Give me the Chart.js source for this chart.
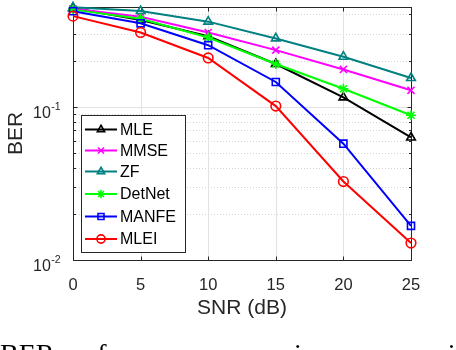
<!DOCTYPE html>
<html>
<head>
<meta charset="utf-8">
<script src="https://cdn.jsdelivr.net/npm/chart.js@4.4.0/dist/chart.umd.min.js"></script>
<style>
  html, body { margin: 0; padding: 0; background: #fff; overflow: hidden; }
  #wrap { position: relative; width: 456px; height: 350px; overflow: hidden; }
  #chartBox { position: absolute; left: 0; top: 0; width: 456px; height: 350px; }
  #caption { position: absolute; left: 0; top: 340px; font-family: "Liberation Serif", serif; font-size: 28px; line-height: 28px; white-space: nowrap; color: #000; }
</style>
</head>
<body>
<div id="wrap">
  <div id="chartBox"><canvas id="berChart"></canvas></div>
  <div id="caption">BER performance comparison curves with</div>
</div>
<script>
// data
const snr = [0, 5, 10, 15, 20, 25];
const berMLE = [0.44, 0.368, 0.288, 0.19, 0.115, 0.063];
const berMMSE = [0.435, 0.386, 0.305, 0.234, 0.175, 0.128];
const berZF = [0.445, 0.421, 0.359, 0.279, 0.212, 0.154];
const berDetNet = [0.43, 0.375, 0.283, 0.19, 0.131, 0.088];
const berMANFE = [0.42, 0.35, 0.252, 0.145, 0.0574, 0.0167];
const berMLEI = [0.39, 0.305, 0.208, 0.101, 0.0325, 0.0129];
const xTicks = [0, 5, 10, 15, 20, 25];
const yTickExps = [-2, -1];

const axisColor = '#262626';
const sans = '"Liberation Sans", Arial, sans-serif';

// one entry per curve, in MATLAB plot order
const series = [
    { label: 'MLE', values: berMLE, color: '#000000', marker: 'triangle', r: 5 },
    { label: 'MMSE', values: berMMSE, color: '#ff00ff', marker: 'crossRot', r: 5 },
    { label: 'ZF', values: berZF, color: '#008080', marker: 'triangle', r: 5 },
    { label: 'DetNet', values: berDetNet, color: '#00ff00', marker: 'star', r: 5 },
    { label: 'MANFE', values: berMANFE, color: '#0000ff', marker: 'rect', r: 5 },
    { label: 'MLEI', values: berMLEI, color: '#ff0000', marker: 'circle', r: 4.8 }
];

const datasets = series.map((s, i) => ({
    label: s.label,
    data: snr.map((x, k) => ({ x: x, y: s.values[k] })),
    borderColor: s.color,
    borderWidth: 2,
    tension: 0,
    pointStyle: s.marker,
    pointRadius: s.r,
    pointBorderColor: s.color,
    pointBorderWidth: 1.6,
    pointBackgroundColor: 'rgba(0,0,0,0)',
    clip: false,
    order: series.length - i
}));

// little drawing helpers
function hLine(ctx, x1, x2, y) {
    ctx.beginPath(); ctx.moveTo(x1, y); ctx.lineTo(x2, y); ctx.stroke();
}
function vLine(ctx, x, y1, y2) {
    ctx.beginPath(); ctx.moveTo(x, y1); ctx.lineTo(x, y2); ctx.stroke();
}

function drawMarker(ctx, style, r, x, y) {
    if (Chart.helpers && Chart.helpers.drawPoint) {
        Chart.helpers.drawPoint(ctx, { pointStyle: style, radius: r, borderWidth: ctx.lineWidth, rotation: 0 }, x, y);
        return;
    }
    ctx.beginPath();
    ctx.arc(x, y, r, 0, Math.PI * 2);
    ctx.stroke();
}

// matlab style box, grid, ticks, exponent labels and legend
const matlabAxes = {
    id: 'matlabAxes',
    beforeDatasetsDraw(chart) {
        const { ctx, chartArea: a, scales: { x, y } } = chart;
        ctx.save();
        ctx.lineWidth = 1;

        // minor y grid (dotted)
        ctx.strokeStyle = '#d4d4d4';
        ctx.setLineDash([1, 2]);
        const minor = [];
        yTickExps.forEach(e => {
            for (let k = 2; k <= 9; k++) {
                const v = k * Math.pow(10, e);
                if (v < y.max) minor.push(v);
            }
        });
        minor.forEach(v => hLine(ctx, a.left, a.right, Math.round(y.getPixelForValue(v)) + 0.5));
        ctx.setLineDash([]);

        // major grid
        ctx.strokeStyle = '#e2e2e2';
        xTicks.slice(1, -1).forEach(v => vLine(ctx, Math.round(x.getPixelForValue(v)) + 0.5, a.top, a.bottom));
        yTickExps.forEach(e => {
            const py = Math.round(y.getPixelForValue(Math.pow(10, e))) + 0.5;
            if (py > a.top + 1 && py < a.bottom - 1) hLine(ctx, a.left, a.right, py);
        });

        // box
        ctx.strokeStyle = axisColor;
        const L = Math.round(a.left) + 0.5, R = Math.round(a.right) + 0.5;
        const T = Math.round(a.top) + 0.5, B = Math.round(a.bottom) + 0.5;
        ctx.strokeRect(L, T, R - L, B - T);

        // inward ticks
        xTicks.forEach(v => {
            const px = Math.round(x.getPixelForValue(v)) + 0.5;
            vLine(ctx, px, B, B - 4);
            vLine(ctx, px, T, T + 4);
        });
        yTickExps.forEach(e => {
            const py = Math.round(y.getPixelForValue(Math.pow(10, e))) + 0.5;
            hLine(ctx, L, L + 4, py);
            hLine(ctx, R, R - 4, py);
        });
        minor.forEach(v => {
            const py = Math.round(y.getPixelForValue(v)) + 0.5;
            hLine(ctx, L, L + 2.5, py);
            hLine(ctx, R, R - 2.5, py);
        });

        // y tick labels 10^e
        ctx.fillStyle = axisColor;
        ctx.textAlign = 'left';
        ctx.textBaseline = 'alphabetic';
        yTickExps.forEach(e => {
            const py = y.getPixelForValue(Math.pow(10, e));
            ctx.font = '16px ' + sans;
            ctx.fillText('10', 33, py + 11);
            const w = ctx.measureText('10').width;
            ctx.font = '10.5px ' + sans;
            ctx.fillText(String(e), 33 + w + 0.5, py + 3);
        });
        ctx.restore();
    },
    afterDatasetsDraw(chart) {
        const { ctx } = chart;
        ctx.save();
        // legend box
        const bx = 81.5, by = 115.5, bw = 104, bh = 137;
        ctx.fillStyle = '#ffffff';
        ctx.fillRect(bx, by, bw, bh);
        ctx.strokeStyle = axisColor;
        ctx.lineWidth = 1;
        ctx.strokeRect(bx, by, bw, bh);

        const rowY = [129.5, 150.5, 171.5, 194, 216.5, 239];
        series.forEach((s, i) => {
            const ly = rowY[i];
            ctx.strokeStyle = s.color;
            ctx.fillStyle = 'rgba(0,0,0,0)';
            ctx.lineWidth = 2;
            hLine(ctx, 85, 117, ly);
            ctx.lineWidth = 1.6;
            drawMarker(ctx, s.marker, s.r * 0.85, 101, ly);
            ctx.fillStyle = '#000000';
            ctx.font = '16px ' + sans;
            ctx.textAlign = 'left';
            ctx.textBaseline = 'middle';
            ctx.fillText(s.label, 120, ly + 1);
        });
        ctx.restore();
    }
};

new Chart(document.getElementById('berChart'), {
    type: 'line',
    data: { datasets: datasets },
    plugins: [matlabAxes],
    options: {
        responsive: true,
        maintainAspectRatio: false,
        animation: false,
        layout: { padding: { top: 4, right: 45, left: 0, bottom: 0 } },
        plugins: { legend: { display: false }, tooltip: { enabled: false } },
        scales: {
            x: {
                type: 'linear',
                min: 0,
                max: 25,
                afterBuildTicks: scale => { scale.ticks = xTicks.map(v => ({ value: v })); },
                afterFit: scale => { scale.height = 90; },
                grid: { display: false },
                border: { display: false },
                ticks: { color: axisColor, font: { family: sans, size: 16.5 }, padding: 8, maxRotation: 0, autoSkip: false },
                title: { display: true, text: 'SNR (dB)', color: axisColor, font: { family: sans, size: 21 }, padding: { top: 0, bottom: 29 } }
            },
            y: {
                type: 'logarithmic',
                min: 0.01,
                max: 0.45,
                afterFit: scale => { scale.width = 73; },
                grid: { display: false },
                border: { display: false },
                ticks: { display: false },
                title: { display: true, text: 'BER', color: axisColor, font: { family: sans, size: 21 }, padding: { top: 4, bottom: 0 } }
            }
        }
    }
});
</script>
</body>
</html>
